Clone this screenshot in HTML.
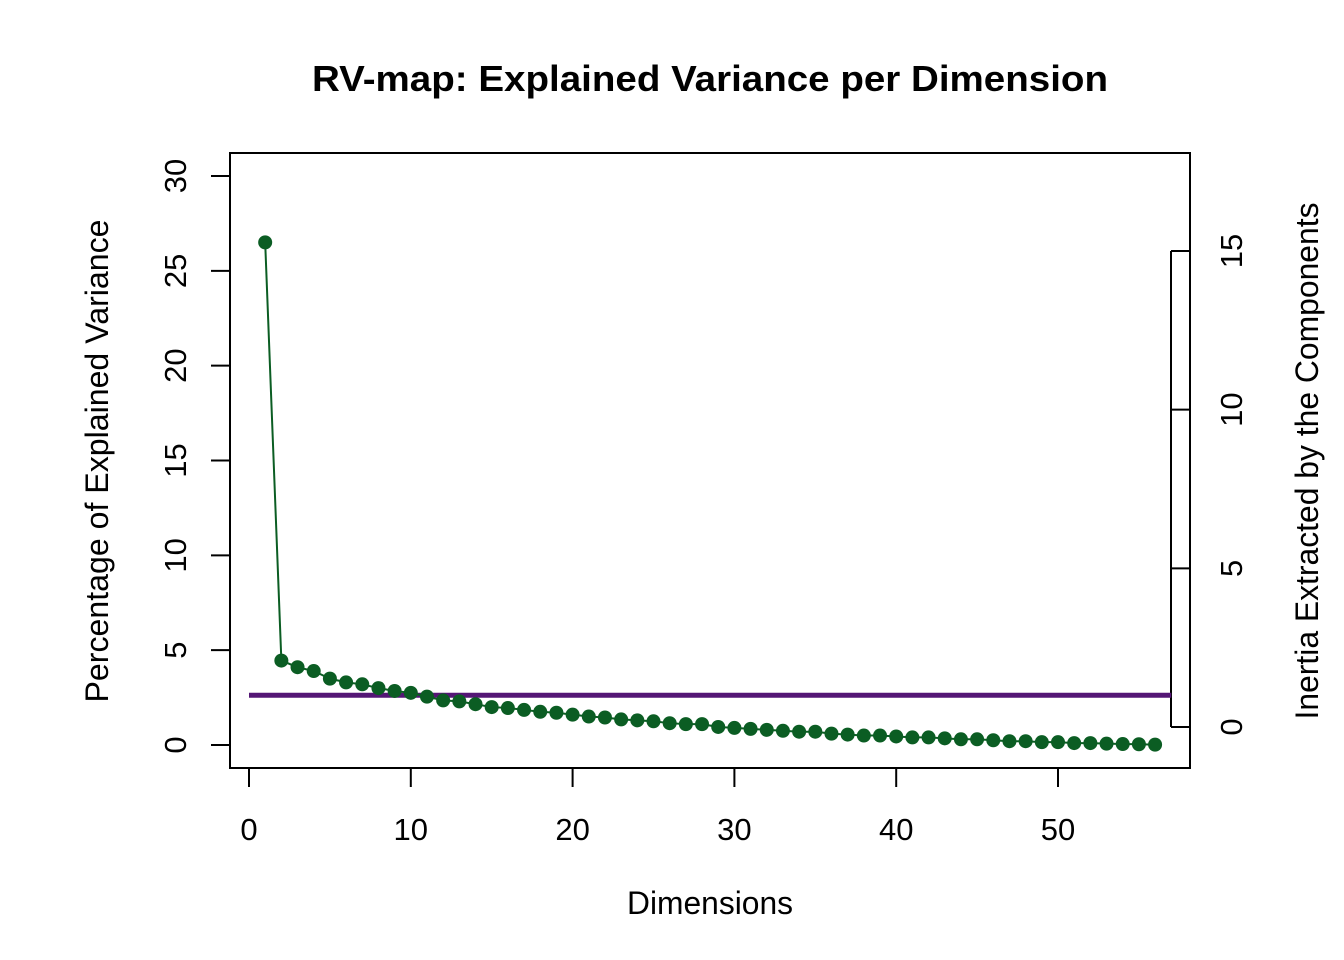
<!DOCTYPE html>
<html><head><meta charset="utf-8"><style>
html,body{margin:0;padding:0;background:#fff;}
svg{display:block;font-family:"Liberation Sans",Arial,sans-serif;}
</style></head><body>
<svg id="chart" width="1344" height="960" viewBox="0 0 1344 960" xmlns="http://www.w3.org/2000/svg">
<text x="710" y="91" text-anchor="middle" font-size="36" font-weight="bold" textLength="796" lengthAdjust="spacingAndGlyphs">RV-map: Explained Variance per Dimension</text>
<rect x="230" y="153" width="960" height="615" fill="none" stroke="#000" stroke-width="2"/>
<text x="710" y="914" text-anchor="middle" font-size="32" textLength="166" lengthAdjust="spacingAndGlyphs">Dimensions</text>
<text transform="translate(108,461) rotate(-90)" text-anchor="middle" font-size="32" textLength="483" lengthAdjust="spacingAndGlyphs">Percentage of Explained Variance</text>
<text transform="translate(1318,461) rotate(-90)" text-anchor="middle" font-size="32" textLength="517" lengthAdjust="spacingAndGlyphs">Inertia Extracted by the Components</text>
<g id="axes"></g>
<g id="marks"></g>
</svg>
<script>
const dims = Array.from({length:56},(_,i)=>i+1);
const variance = [26.5,4.45,4.1,3.9,3.5,3.3,3.2,3.0,2.85,2.75,2.55,2.35,2.3,2.15,2.0,1.95,1.85,1.75,1.7,1.6,1.5,1.45,1.35,1.3,1.25,1.15,1.1,1.1,0.95,0.9,0.85,0.8,0.75,0.7,0.7,0.6,0.55,0.5,0.5,0.45,0.4,0.4,0.35,0.3,0.3,0.25,0.2,0.2,0.15,0.15,0.1,0.1,0.07,0.05,0.04,0.02];
const xTicks = [0,10,20,30,40,50];
const yTicks = [0,5,10,15,20,25,30];
const rTicks = [0,5,10,15];
const refInertia = 1;
const refXRange = [0,57];

const NS="http://www.w3.org/2000/svg";
const xs = v => 249 + v*(1058-249)/50;
const ys = v => 745 - v*(745-176)/30;
const rs = v => 727 - v*(727-251)/15;
function mk(tag, attrs, parent){const e=document.createElementNS(NS,tag);for(const k in attrs)e.setAttribute(k,attrs[k]);parent.appendChild(e);return e;}
const axes=document.getElementById('axes'), marks=document.getElementById('marks');

mk('line',{x1:xs(xTicks[0]),x2:xs(xTicks[xTicks.length-1]),y1:768,y2:768,stroke:'#000','stroke-width':2},axes);
xTicks.forEach(t=>{
  const l=mk('line',{x1:xs(t),x2:xs(t),y1:768,y2:787,stroke:'#000','stroke-width':2},axes);
  
  
  const tx=mk('text',{x:xs(t),y:840,'text-anchor':'middle','font-size':31},axes);
  
  
  tx.textContent=t;
});
yTicks.forEach(t=>{
  const l=mk('line',{x1:211,x2:230,y1:ys(t),y2:ys(t),stroke:'#000','stroke-width':2},axes);
  
  
  const tx=mk('text',{transform:`translate(186,${ys(t)}) rotate(-90)`,'text-anchor':'middle','font-size':31},axes);
  
  
  tx.textContent=t;
});
mk('line',{x1:1171,x2:1171,y1:rs(rTicks[0]),y2:rs(rTicks[rTicks.length-1]),stroke:'#000','stroke-width':2},axes);
rTicks.forEach(t=>{
  const l=mk('line',{x1:1171,x2:1190,y1:rs(t),y2:rs(t),stroke:'#000','stroke-width':2},axes);
  
  
  const tx=mk('text',{transform:`translate(1242,${rs(t)}) rotate(-90)`,'text-anchor':'middle','font-size':31},axes);
  
  
  tx.textContent=t;
});

const ref=mk('line',{x1:xs(refXRange[0]),x2:xs(refXRange[1]),y1:rs(refInertia),y2:rs(refInertia),stroke:'#541675','stroke-width':5},marks);



const pl=mk('polyline',{points:dims.map((d,i)=>xs(d)+','+ys(variance[i])).join(' '),fill:'none',stroke:'#0b5d23','stroke-width':2},marks);


dims.forEach((d,i)=>{
  const c=mk('circle',{cx:xs(d),cy:ys(variance[i]),r:7,fill:'#0b5d23'},marks);
  
  
});
</script>
</body></html>
